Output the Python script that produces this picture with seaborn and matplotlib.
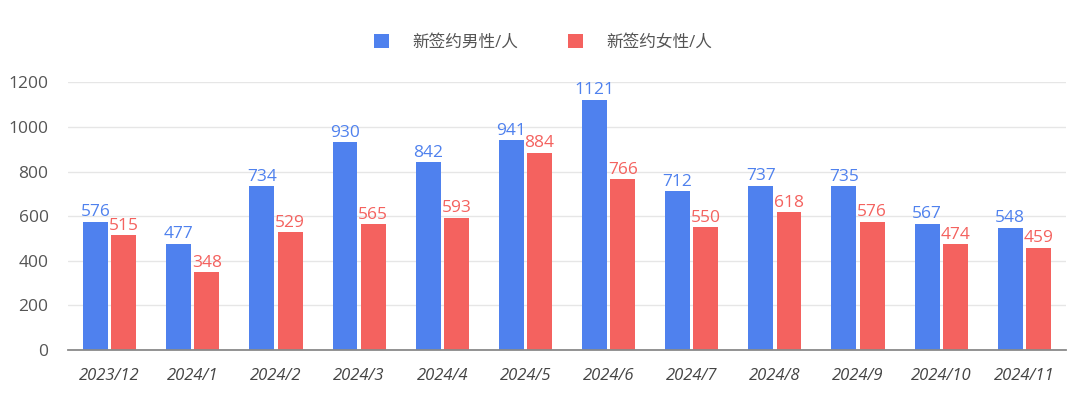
import pandas as pd
import matplotlib.pyplot as plt
import seaborn as sns

# Data
months = ['2023/12', '2024/1', '2024/2', '2024/3', '2024/4', '2024/5',
          '2024/6', '2024/7', '2024/8', '2024/9', '2024/10', '2024/11']
male = [576, 477, 734, 930, 842, 941, 1121, 712, 737, 735, 567, 548]
female = [515, 348, 529, 565, 593, 884, 766, 550, 618, 576, 474, 459]
series_names = ['新签约男性/人', '新签约女性/人']
colors = ['#4F81EE', '#F4625F']

df = pd.DataFrame({'month': months * 2,
                   'count': male + female,
                   'series': [series_names[0]] * len(months) + [series_names[1]] * len(months)})

sns.set_style('white')
plt.rcParams['font.family'] = ['Open Sans', 'Noto Sans CJK SC', 'DejaVu Sans']

fig = plt.figure(figsize=(10.8, 3.97), dpi=100)
ax = fig.add_axes([0.063, 0.118, 0.924, 0.675])

sns.barplot(data=df, x='month', y='count', hue='series', palette=colors,
            saturation=1, width=0.68, gap=0.12, linewidth=0, edgecolor='none',
            ax=ax, legend=True)

# value labels in the bar colour
for cont, c in zip(ax.containers, colors):
    ax.bar_label(cont, fmt='%d', color=c, fontsize=12.5, padding=1)

ax.set_ylim(0, 1200)
ax.set_yticks(range(0, 1201, 200))
ax.set_xlim(-0.5, len(months) - 0.5)
ax.yaxis.grid(True, color='#E6E6E6', linewidth=1)
ax.set_axisbelow(True)
ax.set_xlabel('')
ax.set_ylabel('')
for s in ['top', 'right', 'left']:
    ax.spines[s].set_visible(False)
ax.spines['bottom'].set_color('#8A8A8A')
ax.spines['bottom'].set_linewidth(1.3)
ax.tick_params(axis='y', length=0, labelsize=12.5, colors='#555555', pad=14)
ax.tick_params(axis='x', length=0, labelsize=12, colors='#444444', pad=13)
for lbl in ax.get_xticklabels():
    lbl.set_fontstyle('italic')

handles, labels = ax.get_legend_handles_labels()
ax.legend_.remove()
fig.legend(handles, labels, loc='center', bbox_to_anchor=(0.503, 0.893), ncol=2,
           frameon=False, fontsize=12, handlelength=0.9, handleheight=0.9,
           handletextpad=1.4, columnspacing=3.0, labelcolor='#555555')

fig.savefig('out.png', dpi=100)
